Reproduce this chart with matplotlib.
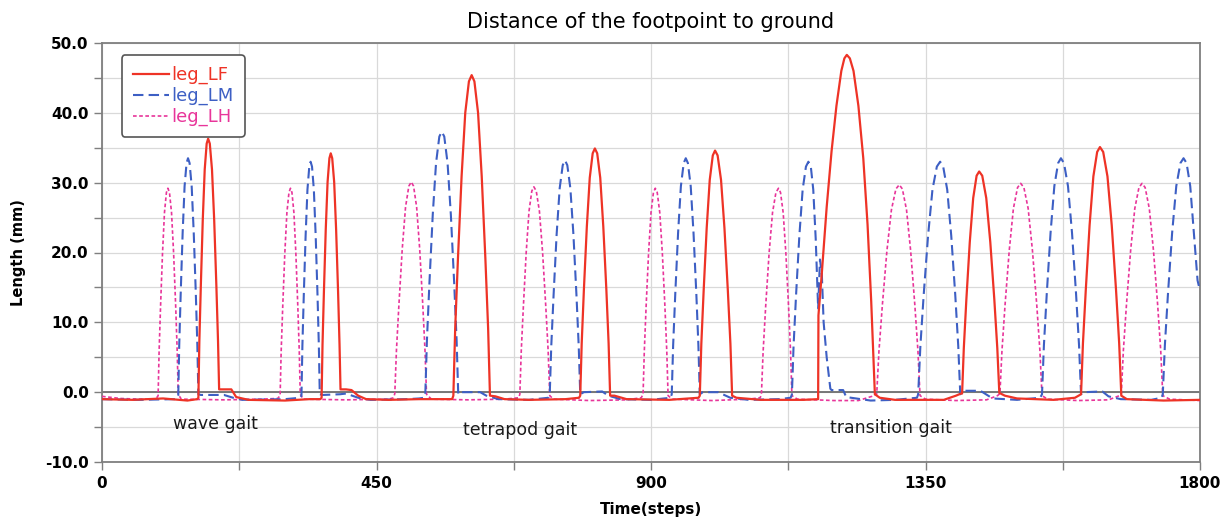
import matplotlib
matplotlib.use("Agg")
import matplotlib.pyplot as plt
from matplotlib.ticker import MultipleLocator, FormatStrFormatter

# ---------------- data ----------------
# leg_LH (pink, dotted)
lh_steps = [0, 30, 60, 88,
            92, 93.6, 96, 99.2, 102.4, 105.6, 108, 110.6, 114, 117.4, 120.8, 123.3, 125,
            130, 200, 260, 288,
            292, 293.7, 296.3, 299.7, 303.1, 306.5, 309, 311.4, 314.6, 317.8, 321, 323.4, 325,
            330, 400, 470, 478,
            480, 482.7, 486.8, 492.2, 497.6, 503, 507, 510.8, 515.8, 520.8, 525.8, 529.5, 532,
            540, 600, 660, 683,
            685, 687.3, 690.8, 695.4, 700, 704.6, 708, 711.9, 717.1, 722.3, 727.5, 731.4, 734,
            740, 800, 860, 884,
            887, 889, 892, 896, 900, 904, 907, 910.2, 914.4, 918.6, 922.8, 925.9, 928,
            935, 1000, 1060, 1079,
            1081, 1083.8, 1088, 1093.6, 1099.2, 1104.8, 1109, 1112.3, 1116.7, 1121.1, 1125.5, 1128.8, 1131,
            1140, 1200, 1240, 1262, 1268,
            1270, 1273.7, 1279.3, 1286.7, 1294.1, 1301.5, 1307, 1312.1, 1318.9, 1325.7, 1332.5, 1337.6, 1341,
            1350, 1400, 1450, 1468,
            1472, 1475.4, 1480.5, 1487.3, 1494.1, 1500.9, 1506, 1511.3, 1518.3, 1525.3, 1532.3, 1537.5, 1541,
            1550, 1600, 1650, 1668,
            1671, 1674.4, 1679.5, 1686.3, 1693.1, 1699.9, 1705, 1710.1, 1716.9, 1723.7, 1730.5, 1735.6, 1739,
            1750, 1800]
lh_vals = [-0.6, -0.9, -1.0, -1.0,
           -0.5, 5.8, 12.3, 19.9, 25.7, 28.6, 29.2, 28.6, 25.7, 19.9, 12.3, 5.8, -0.3,
           -1.0, -1.1, -1.0, -0.9,
           -0.5, 5.8, 12.3, 19.9, 25.7, 28.6, 29.2, 28.6, 25.7, 19.9, 12.3, 5.8, -0.3,
           -1.0, -1.1, -1.0, -0.8,
           -0.2, 6.0, 12.6, 20.5, 26.5, 29.5, 30.1, 29.5, 26.5, 20.5, 12.6, 6.0, -0.3,
           -1.0, -1.1, -1.0, -0.8,
           -0.3, 5.9, 12.3, 20.0, 25.9, 28.8, 29.4, 28.8, 25.9, 20.0, 12.3, 5.9, -0.5,
           -1.0, -1.2, -1.1, -0.8,
           -0.3, 5.8, 12.3, 19.9, 25.7, 28.6, 29.2, 28.6, 25.7, 19.9, 12.3, 5.8, -0.5,
           -1.0, -1.2, -1.0, -0.8,
           -0.3, 5.8, 12.3, 19.9, 25.7, 28.6, 29.2, 28.6, 25.7, 19.9, 12.3, 5.8, -0.5,
           -1.0, -1.2, -1.2, -0.6, -0.3,
           -0.3, 5.9, 12.5, 20.2, 26.1, 29.1, 29.7, 29.1, 26.1, 20.2, 12.5, 5.9, -0.5,
           -1.0, -1.2, -1.1, -0.5,
           -0.2, 6.0, 12.6, 20.3, 26.3, 29.3, 29.9, 29.3, 26.3, 20.3, 12.6, 6.0, -0.5,
           -1.0, -1.2, -1.1, -0.5,
           -0.2, 6.0, 12.6, 20.3, 26.3, 29.3, 29.9, 29.3, 26.3, 20.3, 12.6, 6.0, -0.5,
           -1.0, -1.2]

# leg_LM (blue, dashed)
lm_steps = [0, 60, 120, 124,
            125, 126.6, 129, 132.2, 135.4, 138.6, 141, 143.6, 147, 150.4, 153.8, 156.3, 158,
            162, 200, 215, 230, 300, 325,
            327, 328.5, 330.8, 333.8, 336.8, 339.8, 342, 344.3, 347.3, 350.3, 353.3, 355.5, 357,
            362, 390, 400, 420, 440, 500, 520, 528,
            530, 532.7, 536.8, 542.2, 547.6, 553, 557, 561.1, 566.5, 571.9, 577.3, 581.3, 584,
            590, 620, 630, 650, 700, 732,
            734, 736.5, 740.3, 745.3, 750.3, 755.3, 759, 762.8, 767.8, 772.8, 777.8, 781.5, 784,
            790, 820, 830, 850, 900, 932,
            934, 936.3, 939.8, 944.4, 949, 953.6, 957, 960.5, 965.1, 969.7, 974.3, 977.7, 980,
            985, 1010, 1030, 1060, 1110, 1129,
            1131, 1133.7, 1137.8, 1143.2, 1148.6, 1154, 1158, 1162, 1166, 1170, 1174, 1177, 1180, 1183, 1188, 1194, 1196,
            1200, 1215, 1220, 1260, 1300, 1336,
            1338, 1341.6, 1347, 1354.2, 1361.4, 1368.6, 1374, 1379, 1385.6, 1392.2, 1398.8, 1403.7, 1407,
            1412, 1440, 1460, 1500, 1538,
            1541, 1544.1, 1548.8, 1555, 1561.2, 1567.4, 1572, 1577, 1583.6, 1590.2, 1596.8, 1601.7, 1605,
            1610, 1640, 1650, 1670, 1720, 1737,
            1739, 1742.4, 1747.5, 1754.3, 1761.1, 1767.9, 1773, 1778, 1784, 1790, 1796, 1800]
lm_vals = [-1.0, -1.1, -1.0, -0.8,
           -0.5, 6.7, 14.1, 22.8, 29.5, 32.8, 33.5, 32.8, 29.5, 22.8, 14.1, 6.7, -0.3,
           -0.4, -0.4, -0.8, -1.1, -1.0, -0.8,
           -0.5, 6.6, 13.9, 22.4, 29.0, 32.3, 33.0, 32.3, 29.0, 22.4, 13.9, 6.6, -0.3,
           -0.4, -0.3, -0.2, -0.8, -1.1, -1.0, -0.9, -0.8,
           -0.3, 7.5, 15.7, 25.4, 32.8, 36.6, 37.3, 36.6, 32.8, 25.4, 15.7, 7.5, -0.3,
           0.0, 0.0, -0.5, -1.0, -1.1, -0.8,
           -0.3, 6.6, 13.9, 22.6, 29.2, 32.5, 33.2, 32.5, 29.2, 22.6, 13.9, 6.6, -0.3,
           0.0, 0.1, -0.5, -1.0, -1.1, -0.8,
           -0.3, 6.7, 14.1, 22.8, 29.5, 32.8, 33.5, 32.8, 29.5, 22.8, 14.1, 6.7, -0.3,
           0.0, 0.0, -0.8, -1.1, -1.0, -0.8,
           -0.3, 6.6, 13.9, 22.4, 29.0, 32.3, 33.0, 32.3, 29.0, 22.0, 12.0, 19.0, 17.0, 10.0, 5.0, 0.5, 0.3,
           0.3, 0.3, -0.7, -1.2, -1.1, -0.8,
           -0.3, 6.6, 13.9, 22.4, 29.0, 32.3, 33.0, 32.3, 29.0, 22.4, 13.9, 6.6, -0.3,
           0.2, 0.2, -0.9, -1.1, -0.8,
           -0.3, 6.7, 14.1, 22.8, 29.5, 32.8, 33.5, 32.8, 29.5, 22.8, 14.1, 6.7, -0.3,
           0.0, 0.1, -0.6, -1.0, -1.1, -0.8,
           -0.3, 6.7, 14.1, 22.8, 29.5, 32.8, 33.5, 32.8, 29.5, 22.8, 16.0, 14.5]

# leg_LF (red, solid)
lf_steps = [0, 50, 100, 140, 156,
            158, 159.6, 162, 165.2, 168.4, 171.6, 174, 176.7, 180.3, 183.9, 187.5, 190.2, 192,
            200, 212, 220, 240, 300, 340, 358,
            360, 361.5, 363.8, 366.8, 369.8, 372.8, 375, 377.4, 380.6, 383.8, 387, 389.4, 391,
            400, 409, 420, 433, 470, 520, 574,
            576, 579, 583.5, 589.5, 595.5, 601.5, 606, 610.5, 616.5, 622.5, 628.5, 633, 636,
            645, 660, 700, 760, 782,
            784, 786.4, 790, 794.8, 799.6, 804.4, 808, 811.8, 816.8, 821.8, 826.8, 830.5, 833,
            840, 860, 930, 978,
            980, 982.5, 986.3, 991.3, 996.3, 1001.3, 1005, 1009.2, 1014.8, 1020.4, 1026, 1030.2, 1033,
            1040, 1080, 1150, 1172,
            1174, 1174.5, 1180, 1188, 1196, 1204, 1212, 1217, 1221, 1226, 1232, 1240, 1248, 1255, 1261, 1265, 1267,
            1275, 1300, 1380, 1400, 1408,
            1410, 1412.8, 1417, 1422.6, 1428.2, 1433.8, 1438, 1443, 1449.6, 1456.2, 1462.8, 1467.7, 1471,
            1480, 1500, 1560, 1595, 1603,
            1605, 1608.1, 1612.8, 1619, 1625.2, 1631.4, 1636, 1641.3, 1648.3, 1655.3, 1662.3, 1667.5, 1671,
            1680, 1740, 1800]
lf_vals = [-1.0, -1.1, -0.9, -1.2, -1.0,
           -0.8, 7.3, 15.2, 24.7, 31.9, 35.6, 36.3, 35.6, 31.9, 24.7, 15.2, 7.3, 0.4,
           0.4, 0.4, -0.7, -1.1, -1.2, -1.0, -1.0,
           -0.8, 6.8, 14.4, 23.3, 30.1, 33.5, 34.2, 33.5, 30.1, 23.3, 14.4, 6.8, 0.4,
           0.4, 0.3, -0.5, -1.0, -1.1, -1.0, -1.0,
           -0.5, 9.1, 19.1, 30.9, 40.0, 44.5, 45.4, 44.5, 40.0, 30.9, 19.1, 9.1, -0.5,
           -0.6, -1.0, -1.1, -1.0, -0.8,
           -0.5, 7.0, 14.7, 23.7, 30.7, 34.2, 34.9, 34.2, 30.7, 23.7, 14.7, 7.0, -0.5,
           -0.5, -1.0, -1.1, -0.8,
           -0.5, 6.9, 14.5, 23.5, 30.4, 33.9, 34.6, 33.9, 30.4, 23.5, 14.5, 6.9, -0.5,
           -0.8, -1.1, -1.1, -1.0,
           -1.0, 11.0, 17.0, 26.5, 34.5, 41.0, 46.0, 47.8, 48.3, 47.8, 46.0, 41.0, 33.5, 24.0, 13.0, 4.0, -0.3,
           -0.8, -1.1, -1.1, -0.5, -0.2,
           -0.2, 6.3, 13.3, 21.5, 27.8, 31.0, 31.6, 31.0, 27.8, 21.5, 13.3, 6.3, -0.1,
           -0.5, -0.9, -1.1, -0.8, -0.4,
           -0.3, 7.0, 14.7, 23.9, 30.9, 34.4, 35.1, 34.4, 30.9, 23.9, 14.7, 7.0, -0.5,
           -1.0, -1.2, -1.1]

series_labels = ["leg_LF", "leg_LM", "leg_LH"]
x_ticks = [0, 450, 900, 1350, 1800]
gait_labels = ["wave gait", "tetrapod gait", "transition gait"]
gait_x = [186, 685, 1294]
gait_y = [-4.5, -5.4, -5.1]

# ---------------- figure ----------------
fig = plt.figure(figsize=(12.28, 5.19), dpi=100)
ax = fig.add_axes([102 / 1228, 57 / 519, 1098 / 1228, 419 / 519])

red = "#ee3326"
blue = "#3d5fc4"
pink = "#e8359a"

ax.axhline(0, color="#6e6e6e", lw=1.3, zorder=1.5)

ax.plot(lf_steps, lf_vals, color=red, lw=1.6, label=series_labels[0], zorder=3)
ax.plot(lm_steps, lm_vals, color=blue, lw=1.5, dashes=(5, 2.5), label=series_labels[1], zorder=2.8)
ax.plot(lh_steps, lh_vals, color=pink, lw=1.2, dashes=(2.2, 1.5), label=series_labels[2], zorder=2.6)

ax.set_xlim(0, 1800)
ax.set_ylim(-10, 50)
ax.set_xticks(x_ticks)
ax.xaxis.set_minor_locator(MultipleLocator(225))
ax.yaxis.set_major_locator(MultipleLocator(10))
ax.yaxis.set_minor_locator(MultipleLocator(5))
ax.yaxis.set_major_formatter(FormatStrFormatter("%.1f"))

ax.grid(True, which="both", color="#d9d9d9", lw=0.9, zorder=0)
ax.set_axisbelow(True)

ax.tick_params(which="both", direction="out", color="#7f7f7f", width=1.0)
ax.tick_params(which="major", length=6, labelsize=11)
ax.tick_params(which="minor", length=6)
for lab in ax.get_xticklabels() + ax.get_yticklabels():
    lab.set_fontweight("bold")
ax.tick_params(axis="x", pad=4)
for sp in ax.spines.values():
    sp.set_color("#7f7f7f")
    sp.set_linewidth(1.3)

ax.set_title("Distance of the footpoint to ground", fontsize=15, pad=11)
ax.set_xlabel("Time(steps)", fontsize=11, fontweight="bold", labelpad=8)
ax.set_ylabel("Length (mm)", fontsize=10.5, fontweight="bold", labelpad=14)

for t, gx, gy in zip(gait_labels, gait_x, gait_y):
    ax.text(gx, gy, t, fontsize=12.5, ha="center", va="center", color="#1a1a1a")

leg = ax.legend(loc="upper left", bbox_to_anchor=(0.018, 0.971), borderaxespad=0,
                fontsize=13, handlelength=2.0, handletextpad=0.15, labelspacing=0.15,
                borderpad=0.6, labelcolor="linecolor", fancybox=True, framealpha=1)
leg.get_frame().set_edgecolor("#555555")
leg.get_frame().set_linewidth(1.2)

fig.savefig("out.png", dpi=100)
